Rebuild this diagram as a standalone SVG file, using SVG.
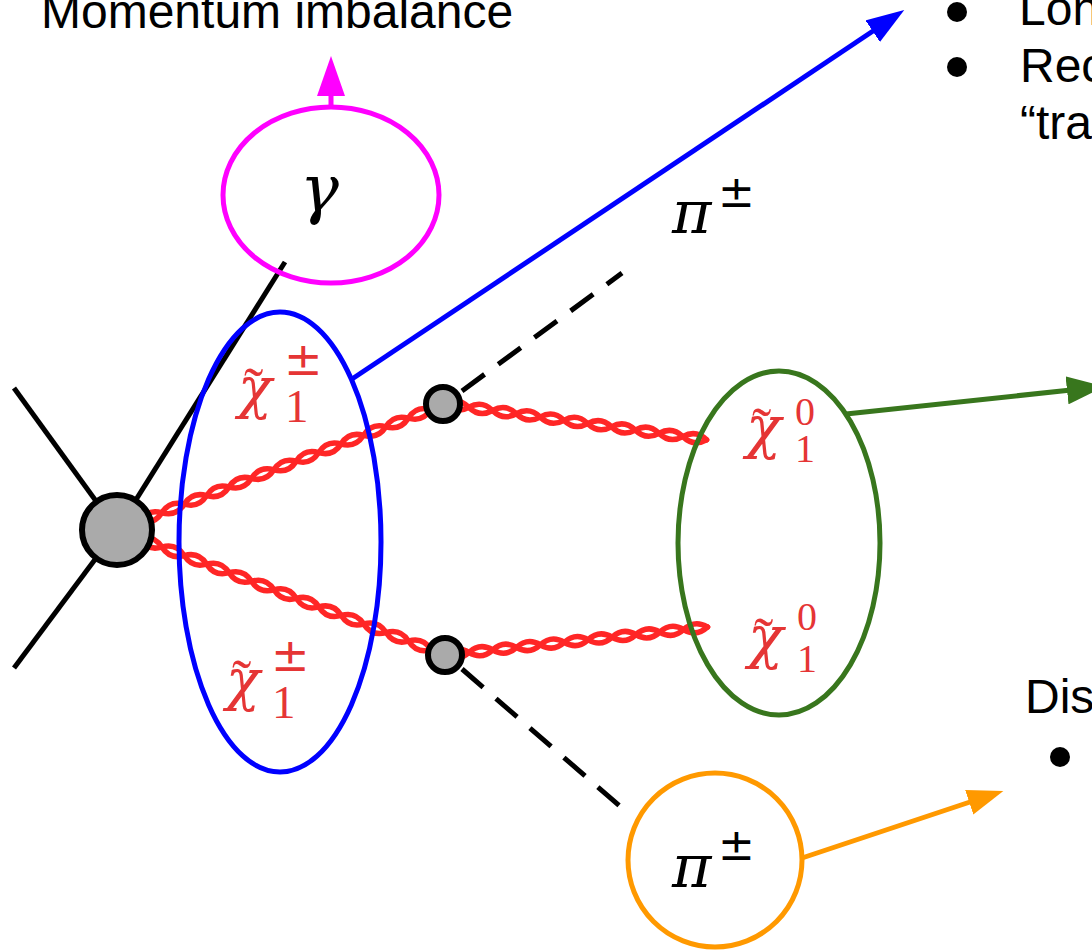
<svg xmlns="http://www.w3.org/2000/svg" width="1092" height="951" viewBox="0 0 1092 951">
<style>
.lbl{font-family:"Liberation Sans",Arial,sans-serif;font-size:48px;fill:#000}
.blk{stroke:#000;stroke-width:5;fill:none}
.dash{stroke:#000;stroke-width:5;stroke-dasharray:28 17;fill:none}
.rope{fill:none;stroke:#ff2626;stroke-width:5.5;stroke-linecap:round}
.vtx{fill:#aaaaaa;stroke:#000;stroke-width:6}
.ell{fill:none;stroke-width:5}
.gk{font-family:"DejaVu Serif","Liberation Serif",serif;font-style:italic}
.num{font-family:"Liberation Serif","DejaVu Serif",serif}
.pm{font-family:"DejaVu Sans",sans-serif}
.red{fill:#e53535}
</style>
<defs>
<marker id="ah-m" markerUnits="userSpaceOnUse" markerWidth="40" markerHeight="28" refX="4" refY="14" orient="auto" viewBox="0 0 40 28"><path d="M0,0 L40,14 L0,28 z" fill="#ff00ff"/></marker>
<marker id="ah-b" markerUnits="userSpaceOnUse" markerWidth="38" markerHeight="26" refX="4" refY="13" orient="auto" viewBox="0 0 38 26"><path d="M0,0 L38,13 L0,26 z" fill="#0000ff"/></marker>
<marker id="ah-g" markerUnits="userSpaceOnUse" markerWidth="38" markerHeight="28" refX="4" refY="14" orient="auto" viewBox="0 0 38 28"><path d="M0,0 L38,14 L0,28 z" fill="#38761d"/></marker>
<marker id="ah-o" markerUnits="userSpaceOnUse" markerWidth="36" markerHeight="26" refX="4" refY="13" orient="auto" viewBox="0 0 36 26"><path d="M0,0 L36,13 L0,26 z" fill="#ff9900"/></marker>
<g id="rope15" class="rope">
<path d="M0,0 q12,-9 24,0 t24,0 t24,0 t24,0 t24,0 t24,0 t24,0 t24,0 t24,0 t24,0 t24,0 t24,0 t24,0 t24,0 t24,0"/>
<path d="M0,0 q12,9 24,0 t24,0 t24,0 t24,0 t24,0 t24,0 t24,0 t24,0 t24,0 t24,0 t24,0 t24,0 t24,0 t24,0 t24,0"/>
</g>
<g id="rope11" class="rope">
<path d="M0,0 q12,-9 24,0 t24,0 t24,0 t24,0 t24,0 t24,0 t24,0 t24,0 t24,0 t24,0 t24,0"/>
<path d="M0,0 q12,9 24,0 t24,0 t24,0 t24,0 t24,0 t24,0 t24,0 t24,0 t24,0 t24,0 t24,0"/>
</g>
</defs>

<g id="lines">
<line class="blk" x1="14" y1="388" x2="117" y2="530"/>
<line class="blk" x1="14" y1="668" x2="117" y2="530"/>
<line class="blk" x1="117" y1="530" x2="285" y2="262"/>
<line class="dash" x1="462" y1="391" x2="622" y2="273"/>
<line class="dash" x1="462" y1="669" x2="622" y2="808"/>
<use href="#rope15" transform="translate(117,530) rotate(-21)"/>
<use href="#rope15" transform="translate(117,530) rotate(20.86)"/>
<use href="#rope11" transform="translate(445,404) rotate(7.8)"/>
<use href="#rope11" transform="translate(445,655) rotate(-6.08)"/>
</g>

<g id="vertex-main"><circle class="vtx" cx="117" cy="530" r="35"/></g>
<g id="vertex-up"><circle class="vtx" cx="443" cy="404" r="17"/></g>
<g id="vertex-down"><circle class="vtx" cx="445" cy="655" r="17"/></g>

<g id="connectors">
<line x1="331" y1="107" x2="331" y2="92" stroke="#ff00ff" stroke-width="5" marker-end="url(#ah-m)"/>
<line x1="352" y1="379" x2="876" y2="29" stroke="#0000ff" stroke-width="5" marker-end="url(#ah-b)"/>
<line x1="846" y1="414" x2="1071" y2="390" stroke="#38761d" stroke-width="5" marker-end="url(#ah-g)"/>
<line x1="802" y1="858" x2="973" y2="801" stroke="#ff9900" stroke-width="5" marker-end="url(#ah-o)"/>
</g>

<g id="photon">
<ellipse class="ell" cx="331" cy="195" rx="108" ry="88" stroke="#ff00ff"/>
<text class="gk" x="300" y="211" font-size="65">γ</text>
</g>

<g id="charginos">
<ellipse class="ell" cx="280" cy="542" rx="101" ry="230" stroke="#0000ff"/>
<g class="red">
<text class="gk" x="238" y="407" font-size="56">χ</text>
<text class="num" x="244" y="407" font-size="58">˜</text>
<text class="num" x="285" y="422" font-size="47">1</text>
<text class="pm" x="284" y="375" font-size="46">±</text>
<text class="gk" x="226" y="699" font-size="56">χ</text>
<text class="num" x="232" y="699" font-size="58">˜</text>
<text class="num" x="272" y="718" font-size="47">1</text>
<text class="pm" x="271" y="671" font-size="46">±</text>
</g>
</g>

<g id="neutralinos">
<ellipse class="ell" cx="779" cy="543" rx="101" ry="172" stroke="#38761d"/>
<g class="red">
<text class="gk" x="746" y="447" font-size="58">χ</text>
<text class="num" x="752" y="447" font-size="58">˜</text>
<text class="num" x="795" y="462" font-size="40">1</text>
<text class="num" x="795" y="425" font-size="40">0</text>
<text class="gk" x="748" y="657" font-size="58">χ</text>
<text class="num" x="754" y="657" font-size="58">˜</text>
<text class="num" x="797" y="672" font-size="40">1</text>
<text class="num" x="797" y="630" font-size="40">0</text>
</g>
</g>

<g id="pion-up">
<text class="gk" x="672" y="233" font-size="60">π</text>
<text class="pm" x="718" y="207" font-size="44">±</text>
</g>

<g id="pion-down">
<circle class="ell" cx="715" cy="860" r="87" stroke="#ff9900"/>
<text class="gk" x="672" y="887" font-size="60">π</text>
<text class="pm" x="718" y="860" font-size="44">±</text>
</g>

<g id="text-momentum"><text class="lbl" x="41" y="28">Momentum imbalance</text></g>
<g id="text-list-top">
<circle cx="957" cy="12" r="10" fill="#000"/>
<circle cx="957" cy="67" r="10" fill="#000"/>
<text class="lbl" x="1019" y="25">Lon</text>
<text class="lbl" x="1020" y="82">Rec</text>
<text class="lbl" x="1020" y="139">“tra</text>
</g>
<g id="text-list-bottom">
<text class="lbl" x="1025" y="713">Dis</text>
<circle cx="1060" cy="757" r="10" fill="#000"/>
</g>
</svg>
